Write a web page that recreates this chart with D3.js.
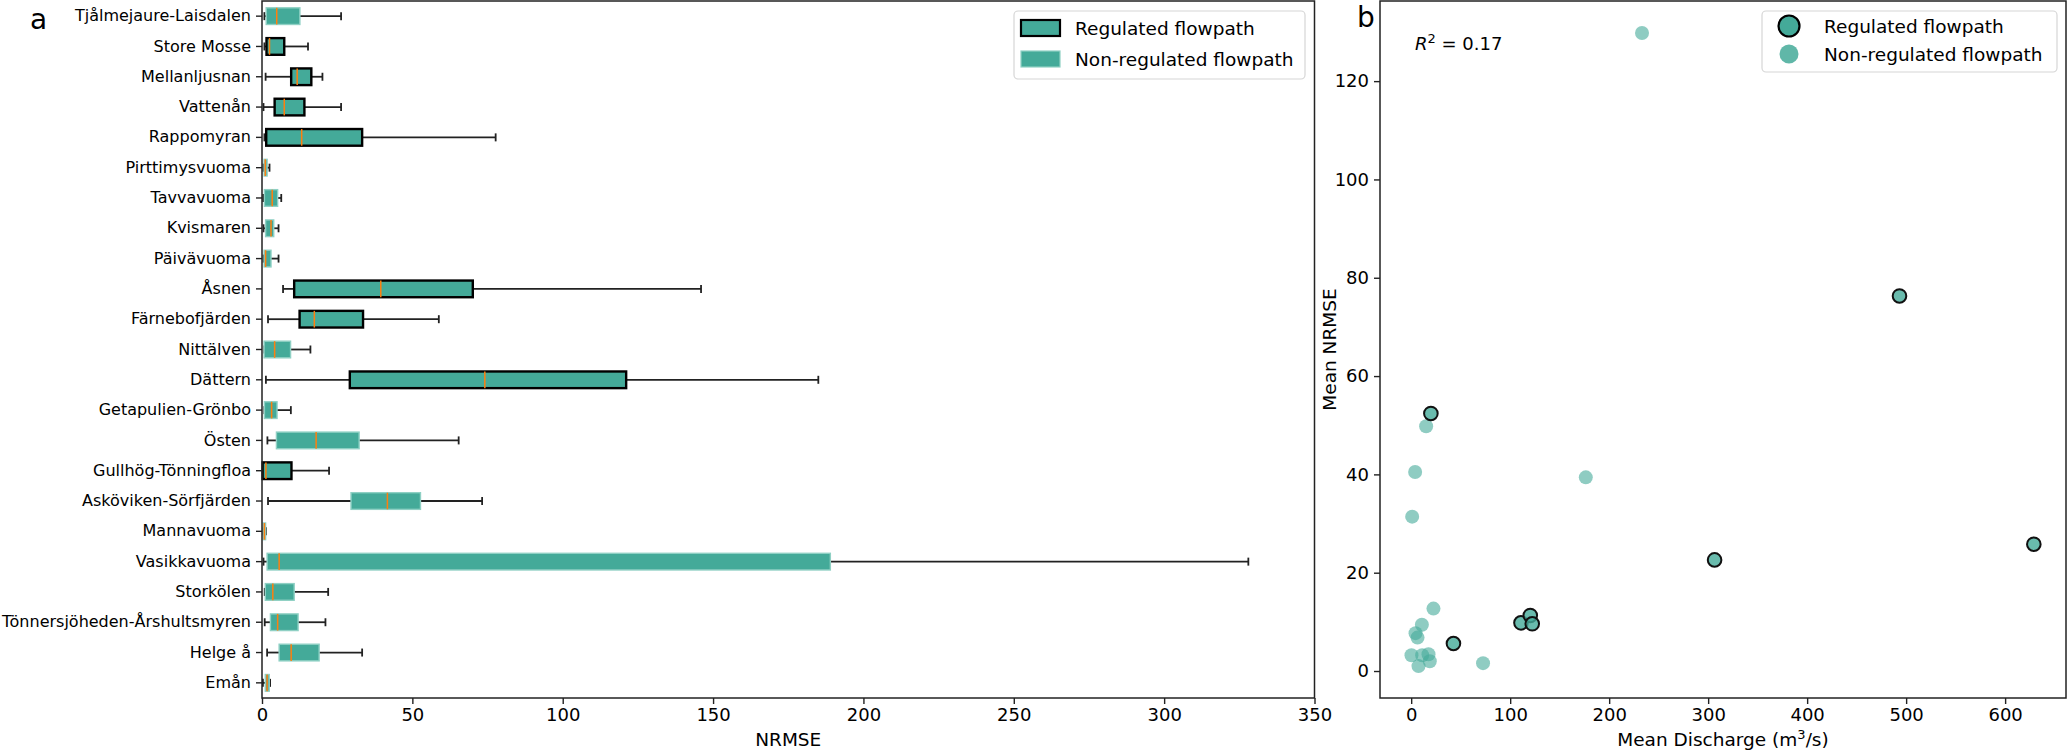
<!DOCTYPE html>
<html>
<head>
<meta charset="utf-8">
<script src="https://cdn.jsdelivr.net/npm/d3@7"></script>
<style>
  body { margin: 0; background: #fff; }
  text { font-family: "DejaVu Sans", sans-serif; fill: #000; }
</style>
</head>
<body>
<svg id="chart"></svg>
<script>
// panel a: box summary per site
const sites = ["Tjålmejaure-Laisdalen", "Store Mosse", "Mellanljusnan", "Vattenån", "Rappomyran",
  "Pirttimysvuoma", "Tavvavuoma", "Kvismaren", "Päivävuoma", "Åsnen", "Färnebofjärden", "Nittälven",
  "Dättern", "Getapulien-Grönbo", "Östen", "Gullhög-Tönningfloa", "Asköviken-Sörfjärden", "Mannavuoma",
  "Vasikkavuoma", "Storkölen", "Tönnersjöheden-Årshultsmyren", "Helge å", "Emån"];
const siteRegulated = [0, 1, 1, 1, 1, 0, 0, 0, 0, 1, 1, 0, 1, 0, 0, 1, 0, 0, 0, 0, 0, 0, 0];
const whiskLow = [0.8, 0.8, 1.2, 0.5, 0.8, 0.5, 0.4, 0.5, 0.5, 7.0, 2.0, 0.8, 1.3, 0.8, 1.8, 0.3, 2.0, 0.5, 0.5, 0.9, 0.9, 1.7, 0.3];
const q1 = [1.4, 1.5, 9.7, 4.2, 1.4, 0.7, 0.8, 1.2, 0.7, 10.7, 12.5, 0.7, 29.2, 0.8, 4.8, 0.2, 29.6, 0.4, 1.7, 1.1, 2.8, 5.7, 1.1];
const median = [4.9, 2.5, 11.7, 7.4, 13.2, 1.1, 3.4, 3.0, 1.2, 39.5, 17.4, 4.2, 74.1, 3.2, 18.0, 1.3, 41.7, 0.8, 5.7, 3.6, 5.2, 9.7, 1.7];
const q3 = [12.6, 7.4, 16.4, 14.1, 33.3, 1.7, 5.2, 3.9, 3.0, 70.1, 33.6, 9.5, 121.1, 5.0, 32.3, 9.8, 52.7, 1.2, 189.0, 10.7, 12.0, 19.0, 2.4];
const whiskHigh = [26.3, 15.3, 20.1, 26.3, 77.7, 2.5, 6.4, 5.5, 5.5, 146.0, 58.8, 16.1, 185.0, 9.6, 65.4, 22.3, 73.2, 1.3, 328.0, 22.0, 21.1, 33.3, 2.7];
const xTicksA = [0, 50, 100, 150, 200, 250, 300, 350];

// panel b: mean discharge vs mean NRMSE
const discharge = [19.9, 42.7, 110.9, 120.3, 122.3, 306.5, 493.3, 629.0,
  15.1, 4.0, 1.0, 176.4, 22.5, 10.8, 4.4, 6.4, 0.3, 11.1, 17.5, 18.8, 7.4, 72.6, 233.2];
const meanNrmse = [52.4, 5.6, 9.8, 11.3, 9.6, 22.6, 76.3, 25.8,
  49.8, 40.5, 31.4, 39.4, 12.7, 9.4, 7.7, 6.8, 3.2, 3.2, 3.4, 2.0, 1.0, 1.6, 129.8];
const pointRegulated = [1, 1, 1, 1, 1, 1, 1, 1, 0, 0, 0, 0, 0, 0, 0, 0, 0, 0, 0, 0, 0, 0, 0];
const xTicksB = [0, 100, 200, 300, 400, 500, 600];
const yTicksB = [0, 20, 40, 60, 80, 100, 120];
const legendLabels = ["Regulated flowpath", "Non-regulated flowpath"];

let width = 2067;
let height = 753;
let teal = "#44AA99";

let svg = d3.select("#chart").attr("width", width).attr("height", height);

let top_ = 1, bottom = 698;

// ---------- panel a ----------
let ax = { left: 262, right: 1314.5 };
let xScaleA = d3.scaleLinear().domain([0, 350]).range([ax.left, ax.right]);
let yScaleA = d3.scaleBand().domain(sites).range([top_, bottom]).padding(0);
let boxH = yScaleA.bandwidth() * 0.55;
let capH = 8;

let gA = svg.append("g");

let rows = sites.map((s, i) => ({
  site: s, reg: siteRegulated[i], lo: whiskLow[i], q1: q1[i], med: median[i], q3: q3[i], hi: whiskHigh[i]
}));

let cy = d => yScaleA(d.site) + yScaleA.bandwidth() / 2;

let boxes = gA.selectAll("g.box").data(rows).enter().append("g").attr("class", "box");

// whiskers
boxes.append("line")
  .attr("x1", d => xScaleA(d.lo)).attr("x2", d => xScaleA(d.q1))
  .attr("y1", cy).attr("y2", cy)
  .attr("stroke", "#222").attr("stroke-width", 1.8);
boxes.append("line")
  .attr("x1", d => xScaleA(d.q3)).attr("x2", d => xScaleA(d.hi))
  .attr("y1", cy).attr("y2", cy)
  .attr("stroke", "#222").attr("stroke-width", 1.8);
// caps
boxes.append("line")
  .attr("x1", d => xScaleA(d.lo)).attr("x2", d => xScaleA(d.lo))
  .attr("y1", d => cy(d) - capH / 2).attr("y2", d => cy(d) + capH / 2)
  .attr("stroke", "#222").attr("stroke-width", 1.8);
boxes.append("line")
  .attr("x1", d => xScaleA(d.hi)).attr("x2", d => xScaleA(d.hi))
  .attr("y1", d => cy(d) - capH / 2).attr("y2", d => cy(d) + capH / 2)
  .attr("stroke", "#222").attr("stroke-width", 1.8);
// box body
boxes.append("rect")
  .attr("x", d => xScaleA(d.q1))
  .attr("width", d => Math.max(1, xScaleA(d.q3) - xScaleA(d.q1)))
  .attr("y", d => cy(d) - boxH / 2)
  .attr("height", boxH)
  .attr("fill", teal)
  .attr("stroke", d => d.reg ? "#000" : "#8fd0c4")
  .attr("stroke-width", d => d.reg ? 2.4 : 1.4);
// median
boxes.append("line")
  .attr("x1", d => xScaleA(d.med)).attr("x2", d => xScaleA(d.med))
  .attr("y1", d => cy(d) - boxH / 2).attr("y2", d => cy(d) + boxH / 2)
  .attr("stroke", "#ff7f0e").attr("stroke-width", 1.5);

// axes a
let xAxisA = d3.axisBottom(xScaleA).tickValues(xTicksA).tickSize(6).tickPadding(4).tickSizeOuter(0);
let gxA = gA.append("g").attr("transform", "translate(0," + bottom + ")").call(xAxisA);
let yAxisA = d3.axisLeft(yScaleA).tickSize(6).tickPadding(5).tickSizeOuter(0);
let gyA = gA.append("g").attr("transform", "translate(" + ax.left + ",0)").call(yAxisA);
gxA.selectAll("text").style("font-size", "18px");
gyA.selectAll("text").style("font-size", "16px");
[gxA, gyA].forEach(g => {
  g.select(".domain").remove();
  g.selectAll("line").attr("stroke", "#222").attr("stroke-width", 1.4);
});
gA.append("rect")
  .attr("x", ax.left).attr("y", top_)
  .attr("width", ax.right - ax.left).attr("height", bottom - top_)
  .attr("fill", "none").attr("stroke", "#222").attr("stroke-width", 1.5);

gA.append("text").attr("x", (ax.left + ax.right) / 2).attr("y", 746)
  .attr("text-anchor", "middle").style("font-size", "18.5px").text("NRMSE");
gA.append("text").attr("x", 30).attr("y", 29).style("font-size", "28px").text("a");

// legend a
let legA = gA.append("g");
legA.append("rect").attr("x", 1014).attr("y", 11).attr("width", 291).attr("height", 68)
  .attr("rx", 4).attr("fill", "#fff").attr("stroke", "#d6d6d6").attr("stroke-width", 1.2);
legendLabels.forEach((lab, i) => {
  let yy = 28 + i * 31;
  legA.append("rect").attr("x", 1021).attr("y", yy - 8).attr("width", 39).attr("height", 16)
    .attr("fill", teal)
    .attr("stroke", i === 0 ? "#000" : "#8fd0c4").attr("stroke-width", i === 0 ? 2.2 : 1.2);
  legA.append("text").attr("x", 1075).attr("y", yy + 7).style("font-size", "18.5px").text(lab);
});

// ---------- panel b ----------
let bx = { left: 1380, right: 2066 };
let xScaleB = d3.scaleLinear().domain([-31.5, 661.5]).range([bx.left, bx.right]);
let yScaleB = d3.scaleLinear().domain([-5.49, 136.3]).range([bottom, top_]);

let gB = svg.append("g");

let pts = discharge.map((q, i) => ({ q: q, n: meanNrmse[i], reg: pointRegulated[i] }));

gB.selectAll("circle.nonreg").data(pts.filter(d => !d.reg)).enter().append("circle")
  .attr("class", "nonreg")
  .attr("cx", d => xScaleB(d.q)).attr("cy", d => yScaleB(d.n)).attr("r", 7)
  .attr("fill", teal).attr("fill-opacity", 0.6);

gB.selectAll("circle.reg").data(pts.filter(d => d.reg)).enter().append("circle")
  .attr("class", "reg")
  .attr("cx", d => xScaleB(d.q)).attr("cy", d => yScaleB(d.n)).attr("r", 6.8)
  .attr("fill", teal).attr("fill-opacity", 0.8)
  .attr("stroke", "#111").attr("stroke-width", 2);

let xAxisB = d3.axisBottom(xScaleB).tickValues(xTicksB).tickSize(6).tickPadding(4).tickSizeOuter(0);
let gxB = gB.append("g").attr("transform", "translate(0," + bottom + ")").call(xAxisB);
let yAxisB = d3.axisLeft(yScaleB).tickValues(yTicksB).tickSize(6).tickPadding(5).tickSizeOuter(0);
let gyB = gB.append("g").attr("transform", "translate(" + bx.left + ",0)").call(yAxisB);
[gxB, gyB].forEach(g => {
  g.select(".domain").remove();
  g.selectAll("text").style("font-size", "18px");
  g.selectAll("line").attr("stroke", "#222").attr("stroke-width", 1.4);
});
gB.append("rect")
  .attr("x", bx.left).attr("y", top_)
  .attr("width", bx.right - bx.left).attr("height", bottom - top_)
  .attr("fill", "none").attr("stroke", "#222").attr("stroke-width", 1.5);

let xl = gB.append("text").attr("x", (bx.left + bx.right) / 2).attr("y", 746)
  .attr("text-anchor", "middle").style("font-size", "18.5px");
xl.append("tspan").text("Mean Discharge (m");
xl.append("tspan").attr("dy", -7).style("font-size", "13px").text("3");
xl.append("tspan").attr("dy", 7).text("/s)");

gB.append("text")
  .attr("transform", "translate(1336," + ((top_ + bottom) / 2) + ") rotate(-90)")
  .attr("text-anchor", "middle").style("font-size", "18.5px").text("Mean NRMSE");

gB.append("text").attr("x", 1357).attr("y", 27).style("font-size", "28px").text("b");

let r2 = gB.append("text").attr("x", 1415).attr("y", 50).style("font-size", "18px");
r2.append("tspan").style("font-style", "italic").text("R");
r2.append("tspan").attr("dy", -7).style("font-size", "13px").text("2");
r2.append("tspan").attr("dy", 7).text(" = 0.17");

// legend b
let legB = gB.append("g");
legB.append("rect").attr("x", 1762).attr("y", 11).attr("width", 295).attr("height", 61)
  .attr("rx", 4).attr("fill", "#fff").attr("stroke", "#d6d6d6").attr("stroke-width", 1.2);
legendLabels.forEach((lab, i) => {
  let yy = 26 + i * 28;
  legB.append("circle").attr("cx", 1789).attr("cy", yy).attr("r", i === 0 ? 10.5 : 9.5)
    .attr("fill", teal).attr("fill-opacity", i === 0 ? 1 : 0.85)
    .attr("stroke", i === 0 ? "#000" : "none").attr("stroke-width", 2.2);
  legB.append("text").attr("x", 1824).attr("y", yy + 7).style("font-size", "18.5px").text(lab);
});
</script>
</body>
</html>
